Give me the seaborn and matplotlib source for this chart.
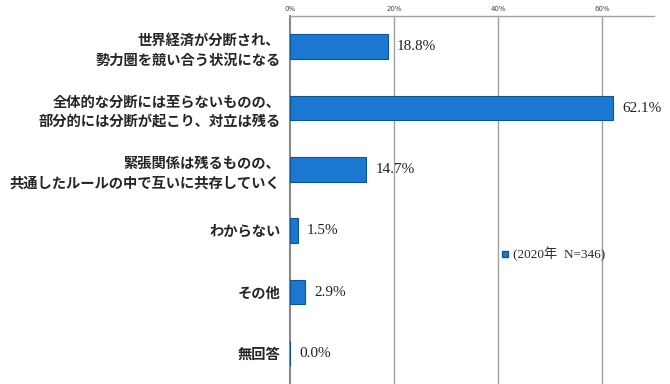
import matplotlib
matplotlib.use("Agg")
import matplotlib.pyplot as plt
import seaborn as sns
import pandas as pd
from matplotlib.lines import Line2D

categories = [
    "世界経済が分断され、\n勢力圏を競い合う状況になる",
    "全体的な分断には至らないものの、\n部分的には分断が起こり、対立は残る",
    "緊張関係は残るものの、\n共通したルールの中で互いに共存していく",
    "わからない",
    "その他",
    "無回答",
]
values = [18.8, 62.1, 14.7, 1.5, 2.9, 0.0]
xticks = [0, 20, 40, 60]
xtick_labels = ["0%", "20%", "40%", "60%"]
legend_label = "(2020年  N=346)"

df = pd.DataFrame({"cat": categories, "val": values})

sns.set_style("white")
plt.rcParams["font.family"] = ["Noto Sans CJK JP", "DejaVu Sans"]

fig = plt.figure(figsize=(6.7, 3.84), dpi=100)
ax = fig.add_axes([290 / 670, 0.0, 364 / 670, 1 - 16 / 384])

sns.barplot(data=df, y="cat", x="val", orient="h", color="#1a78d0",
            saturation=1, width=0.4, edgecolor="#0c5596", linewidth=0.8, ax=ax, zorder=3)

ax.set_xlim(0, 70)
ax.set_ylim(5.5, -0.5)
ax.set_xlabel("")
ax.set_ylabel("")

# x axis on top
ax.xaxis.tick_top()
ax.set_xticks(xticks)
ax.set_xticklabels(xtick_labels, fontsize=5, color="#444444", family=["DejaVu Sans"])
ax.tick_params(axis="x", length=0, pad=3)
for x in xticks[1:]:
    ax.axvline(x, color="#a0a0a0", lw=1.0, zorder=1)

# y axis
ax.set_yticks(range(len(categories)))
ax.set_yticklabels(categories, fontsize=10.3, fontweight="bold", linespacing=1.5)
ax.tick_params(axis="y", length=0, pad=7)
ax.set_yticks([i + 0.5 for i in range(-1, len(categories))], minor=True)
ax.tick_params(axis="y", which="minor", length=4, width=1, color="#888888", direction="out")

for s in ["right", "bottom"]:
    ax.spines[s].set_visible(False)
ax.spines["left"].set_color("#888888")
ax.spines["left"].set_linewidth(1.5)
ax.spines["top"].set_color("#a0a0a0")
ax.spines["top"].set_linewidth(1.0)

for c in ax.containers:
    ax.bar_label(c, fmt="%.1f%%", padding=6.5, fontsize=11,
                 family=["Liberation Serif", "Noto Sans CJK JP"], color="#222222")

handle = Line2D([], [], marker="s", linestyle="none", markersize=5,
                markerfacecolor="#1a78d0", markeredgecolor="#0c5596")
leg = ax.legend([handle], [legend_label], loc="center left",
                bbox_to_anchor=(0.577, 0.352), frameon=False, borderpad=0,
                borderaxespad=0, handlelength=0.7, handletextpad=0.3,
                prop={"family": ["Liberation Serif", "Noto Sans CJK JP"], "size": 9.5})

fig.savefig("out.png", dpi=100)
